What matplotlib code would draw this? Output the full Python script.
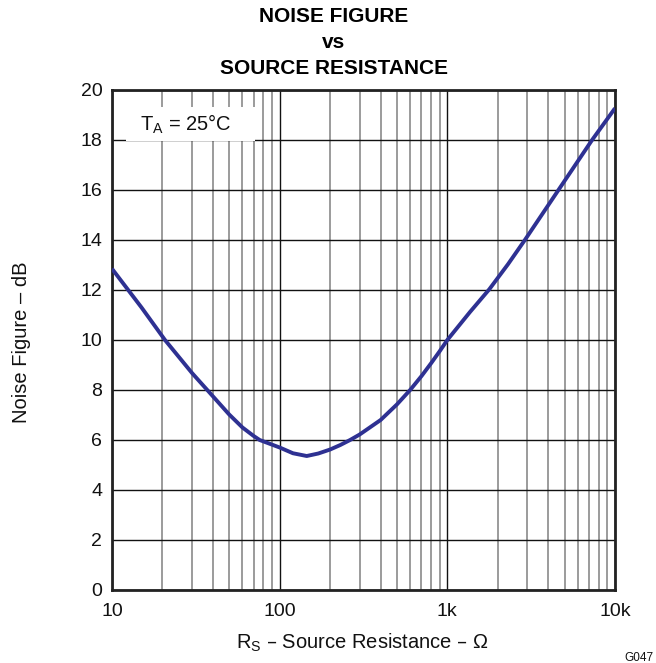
import matplotlib
matplotlib.use("Agg")
import matplotlib.pyplot as plt
from matplotlib.patches import Rectangle
from matplotlib.ticker import FixedLocator, NullFormatter, LogLocator

plt.rcParams['font.family'] = ['Liberation Sans', 'DejaVu Sans']
plt.rcParams['mathtext.default'] = 'regular'

# Source resistance (ohms) and measured noise figure (dB)
source_resistance = [10, 15, 20.7, 30, 37, 50, 60, 70, 76, 100, 120, 145, 170, 200,
                     230, 263, 300, 400, 500, 600, 700, 800, 900, 1000, 1365, 1780,
                     2300, 2900, 4600, 7300, 10000]
noise_figure = [12.85, 11.3, 10.0, 8.68, 8.0, 7.02, 6.5, 6.16, 6.0, 5.7, 5.47, 5.36,
                5.46, 5.62, 5.8, 6.0, 6.22, 6.8, 7.42, 8.0, 8.55, 9.07, 9.55, 10.0,
                11.12, 12.03, 13.03, 14.0, 16.0, 18.0, 19.27]

x_ticks = [10, 100, 1000, 10000]
x_tick_labels = ['10', '100', '1k', '10k']
y_ticks = [0, 2, 4, 6, 8, 10, 12, 14, 16, 18, 20]

fig = plt.figure(figsize=(6.56, 6.63), dpi=100)
ax = fig.add_axes([112 / 656, 73 / 663, 503 / 656, 500 / 663])

ax.set_xscale('log')
ax.set_xlim(10, 10000)
ax.set_ylim(0, 20)

ax.xaxis.set_major_locator(FixedLocator(x_ticks))
ax.set_xticklabels(x_tick_labels)
ax.xaxis.set_minor_locator(LogLocator(base=10, subs=range(2, 10)))
ax.xaxis.set_minor_formatter(NullFormatter())
ax.set_yticks(y_ticks)

ax.grid(which='major', axis='both', color='#111111', linewidth=1.0)
ax.grid(which='minor', axis='x', color='#808080', linewidth=1.1)
ax.tick_params(which='both', length=0, labelsize=14, colors='#111111')
ax.tick_params(axis='x', pad=9)
ax.tick_params(axis='y', pad=7)

for sp in ax.spines.values():
    sp.set_linewidth(2.0)
    sp.set_color('#222222')

ax.plot(source_resistance, noise_figure, color='#2E3192', linewidth=2.8,
        solid_capstyle='butt', solid_joinstyle='round', zorder=3)

# Condition label on a white panel over the grid
ax.add_patch(Rectangle((0.028, 0.898), 0.256, 0.068, transform=ax.transAxes,
                       facecolor='white', edgecolor='none', zorder=2))
ax.text(0.055, 0.932, 'T$_A$ = 25°C', transform=ax.transAxes, fontsize=14.5,
        ha='left', va='center', zorder=4, color='#111111')

title_x = 334 / 656
fig.text(title_x, 1 - 17 / 663, 'NOISE FIGURE', ha='center', va='center',
         fontsize=15, fontweight='bold')
fig.text(title_x, 1 - 43 / 663, 'vs', ha='center', va='center',
         fontsize=15, fontweight='bold')
fig.text(title_x, 1 - 69 / 663, 'SOURCE RESISTANCE', ha='center', va='center',
         fontsize=15, fontweight='bold')

fig.text(362 / 656, 1 - 643 / 663, 'R$_S$ – Source Resistance – Ω', ha='center', va='center',
         fontsize=14.5, color='#111111')
fig.text(22 / 656, 1 - 342 / 663, 'Noise Figure – dB', ha='center', va='center',
         rotation=90, fontsize=14.5, color='#111111')
fig.text(624 / 656, 1 - 658 / 663, 'G047', ha='left', va='center', fontsize=8.5,
         color='#111111')

fig.savefig('out.png', dpi=100)
